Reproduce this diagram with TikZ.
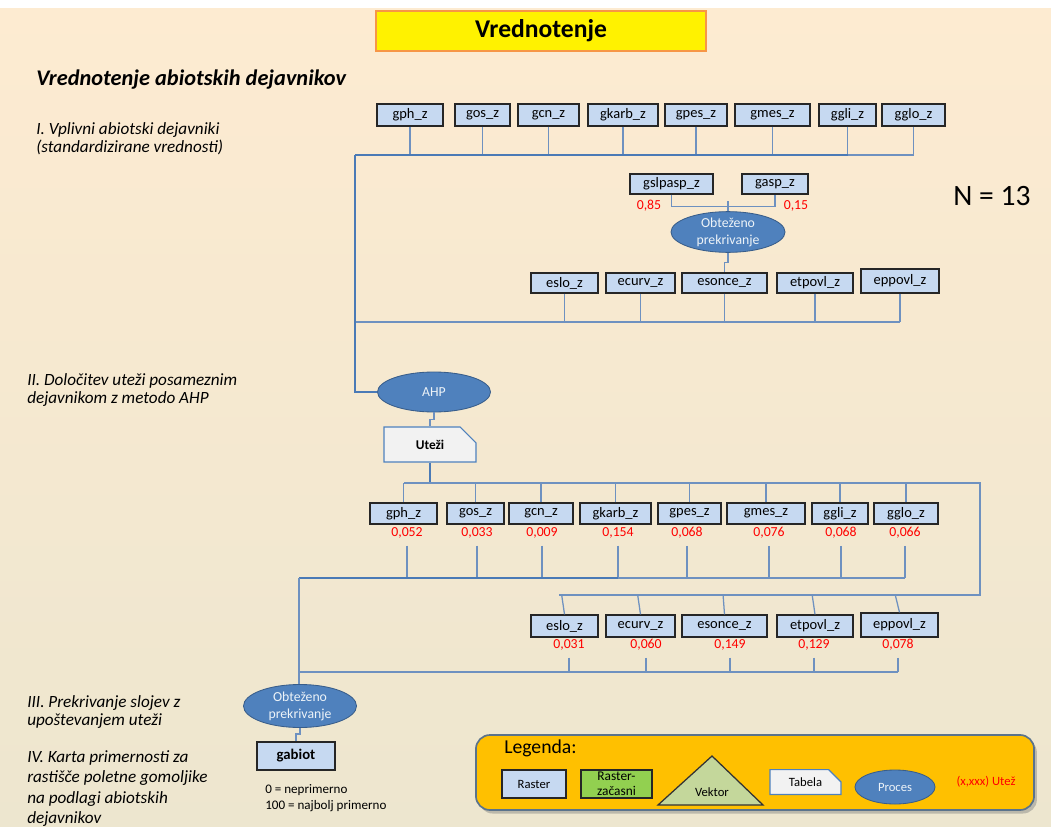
\documentclass[tikz,border=0pt]{standalone}
\usepackage{fontspec}
\setmainfont{Carlito}
\usetikzlibrary{positioning,shapes.geometric,shapes.misc,shadows}
\definecolor{bgtop}{RGB}{253,235,209}
\definecolor{bgbot}{RGB}{237,230,207}
\definecolor{rasterfill}{RGB}{198,217,241}
\definecolor{procfill}{RGB}{79,129,189}
\definecolor{procline}{RGB}{56,93,138}
\definecolor{linkblue}{RGB}{110,145,192}
\definecolor{trunkblue}{RGB}{74,122,182}
\definecolor{titleline}{RGB}{247,150,70}
\definecolor{legfill}{RGB}{255,192,0}
\definecolor{legline}{RGB}{90,115,140}
\definecolor{tmpfill}{RGB}{146,208,80}
\definecolor{vecfill}{RGB}{196,215,155}
\definecolor{tabfill}{RGB}{242,242,242}
\tikzset{
  raster/.style={rectangle,draw=black!85,line width=0.9pt,fill=rasterfill,minimum height=0.55cm,inner sep=1pt,font=\fontsize{10.3}{11}\selectfont},
  proces/.style={ellipse,draw=procline,line width=0.6pt,fill=procfill,text=white!90!procfill,inner sep=0pt,align=center,font=\fontsize{9.8}{12}\selectfont},
  tabela/.style={chamfered rectangle,chamfered rectangle corners=north east,chamfered rectangle xsep=0.3cm,chamfered rectangle ysep=0.28cm,draw=procfill,line width=0.8pt,fill=tabfill,inner sep=0pt,font=\bfseries\fontsize{9.5}{10}\selectfont},
  weight/.style={text=red,inner sep=1pt,font=\fontsize{9.8}{10}\selectfont},
  link/.style={draw=linkblue,line width=0.9pt},
  trunk/.style={draw=trunkblue,line width=1.9pt},
}

\begin{document}
\begin{tikzpicture}[
  x=0.025cm,y=-0.025cm,
  korak/.style={anchor=north west,inner sep=0pt,align=left,font=\itshape\fontsize{12.2}{13.2}\selectfont},
  titlebox/.style={rectangle,draw=titleline,line width=1.5pt,fill=yellow,minimum width=8.25cm,minimum height=1cm,font=\bfseries\fontsize{18.2}{20}\selectfont},
  legbox/.style={rectangle,rounded corners=10pt,draw=legline,line width=1.2pt,fill=legfill,minimum width=13.95cm,minimum height=1.875cm,drop shadow={opacity=0.45,shadow xshift=2pt,shadow yshift=-2.5pt}},
  legtext/.style={font=\fontsize{9}{10}\selectfont,inner sep=0pt,align=center}
]

\useasboundingbox (0,0) rectangle (1051,827);
\fill[top color=bgtop,bottom color=bgbot] (0,8) rectangle (1051,827);
\fill[white] (0,0) rectangle (1051,8);

\node[titlebox] (title) at (541,31) {Vrednotenje};
\node[anchor=west,inner sep=0pt,font=\bfseries\itshape\fontsize{15.9}{18}\selectfont] (head) at (36,80) {Vrednotenje abiotskih dejavnikov};
\node[inner sep=0pt,font=\fontsize{21}{24}\selectfont] (stevilo) at (992,196) {N = 13};

\node[korak] (k1) at (36,122) {I. Vplivni abiotski dejavniki\\(standardizirane vrednosti)};
\node[korak] (k2) at (27,373) {II. Določitev uteži posameznim\\dejavnikom z metodo AHP};
\node[korak] (k3) at (27,695) {III. Prekrivanje slojev z\\upoštevanjem uteži};
\node[korak,font=\itshape\fontsize{12.2}{14.6}\selectfont] (k4) at (27,750) {IV. Karta primernosti za\\rastišče poletne gomoljike\\na podlagi abiotskih\\dejavnikov};

% I. standardized factors
\node[raster,minimum width=1.65cm] (a1) at (410,115) {gph\_z};
\node[raster,minimum width=1.375cm] (a2) at (482.5,115) {gos\_z};
\node[raster,minimum width=1.525cm] (a3) at (548.5,115) {gcn\_z};
\node[raster,minimum width=1.75cm] (a4) at (623,115) {gkarb\_z};
\node[raster,minimum width=1.55cm] (a5) at (696,115) {gpes\_z};
\node[raster,minimum width=1.875cm] (a6) at (772.5,115) {gmes\_z};
\node[raster,minimum width=1.425cm] (a7) at (847.5,115) {ggli\_z};
\node[raster,minimum width=1.575cm] (a8) at (913.5,115) {gglo\_z};

\node[raster,minimum width=2.075cm,minimum height=0.5cm] (b1) at (671.5,184) {gslpasp\_z};
\node[raster,minimum width=1.65cm,minimum height=0.5cm] (b2) at (775,184) {gasp\_z};
\node[weight] (p1) at (649,206) {0,85};
\node[weight] (p2) at (796,206) {0,15};
\node[proces,minimum width=2.85cm,minimum height=0.8cm] (obt1) at (728,232) {Obteženo\\prekrivanje};

\node[raster,minimum width=1.675cm,minimum height=0.5cm] (c1) at (564.5,283) {eslo\_z};
\node[raster,minimum width=1.725cm,minimum height=0.5cm] (c2) at (640.5,283) {ecurv\_z};
\node[raster,minimum width=2.125cm,minimum height=0.5cm] (c3) at (724.5,283) {esonce\_z};
\node[raster,minimum width=1.9cm,minimum height=0.5cm] (c4) at (815,283) {etpovl\_z};
\node[raster,minimum width=1.95cm,minimum height=0.6cm] (c5) at (900,281) {eppovl\_z};

\coordinate (busA) at (355,155);
\coordinate (busB) at (355,322);
\draw[link] (a1.south) -- (a1.south |- busA) (a2.south) -- (a2.south |- busA)
  (a3.south) -- (a3.south |- busA) (a4.south) -- (a4.south |- busA)
  (a5.south) -- (a5.south |- busA) (a6.south) -- (a6.south |- busA)
  (a7.south) -- (a7.south |- busA) (a8.south) -- (a8.south |- busA);
\draw[trunk] (busA) -- (a7.south |- busA);
\draw[link] (a7.south |- busA) -- (a8.south |- busA);
\draw[link] (b1.south) -- ++(0,12) -| (b2.south);
\draw[link] (obt1.north) -- ++(0,-10);
\draw[link] (obt1.south) -- ++(0,10) -| (c3.north);
\draw[link] (c1.south) -- (c1.south |- busB) (c2.south) -- (c2.south |- busB)
  (c3.south) -- (c3.south |- busB) (c4.south) -- (c4.south |- busB)
  (c5.south) -- (c5.south |- busB);
\draw[link] (busB) -- (c5.south |- busB);

% II. AHP weights
\node[proces,minimum width=2.825cm,minimum height=1cm] (ahp) at (434,392) {AHP};
\node[tabela,minimum width=2.3cm,minimum height=0.875cm] (ute) at (430,444.5) {Uteži};
\draw[trunk] (busA) |- (ahp.west);
\draw[link] (ahp.south) -- ++(0,7) -| (ute.north);

\node[raster,minimum width=1.675cm,minimum height=0.525cm] (m1) at (403.5,513.5) {gph\_z};
\node[raster,minimum width=1.425cm,minimum height=0.525cm] (m2) at (475.5,513.5) {gos\_z};
\node[raster,minimum width=1.6cm,minimum height=0.525cm] (m3) at (541,513.5) {gcn\_z};
\node[raster,minimum width=1.775cm,minimum height=0.525cm] (m4) at (615.5,513.5) {gkarb\_z};
\node[raster,minimum width=1.575cm,minimum height=0.525cm] (m5) at (689.5,513.5) {gpes\_z};
\node[raster,minimum width=1.95cm,minimum height=0.525cm] (m6) at (766,513.5) {gmes\_z};
\node[raster,minimum width=1.4cm,minimum height=0.525cm] (m7) at (840,513.5) {ggli\_z};
\node[raster,minimum width=1.6cm,minimum height=0.525cm] (m8) at (906,513.5) {gglo\_z};

\node[weight] (v1) at (407,533) {0,052};
\node[weight] (v2) at (477,533) {0,033};
\node[weight] (v3) at (542,533) {0,009};
\node[weight] (v4) at (618,533) {0,154};
\node[weight] (v5) at (687,533) {0,068};
\node[weight] (v6) at (769,533) {0,076};
\node[weight] (v7) at (841,533) {0,068};
\node[weight] (v8) at (905,533) {0,066};

\node[raster,minimum width=1.675cm] (l1) at (564.5,626) {eslo\_z};
\node[raster,minimum width=1.725cm] (l2) at (640.5,626) {ecurv\_z};
\node[raster,minimum width=2.125cm] (l3) at (724.5,626) {esonce\_z};
\node[raster,minimum width=1.9cm] (l4) at (815,626) {etpovl\_z};
\node[raster,minimum width=1.925cm,minimum height=0.6cm] (l5) at (899.5,625) {eppovl\_z};

\node[weight] (u1) at (569,645) {0,031};
\node[weight] (u2) at (646,645) {0,060};
\node[weight] (u3) at (730,645) {0,149};
\node[weight] (u4) at (814,645) {0,129};
\node[weight] (u5) at (898,645) {0,078};

\coordinate (busC) at (404,483);
\coordinate (cornC) at (980,483);
\coordinate (busD) at (559,595);
\coordinate (busE) at (299,578);
\coordinate (busF) at (299,672);
\draw[trunk] (ute.south) -- (ute.south |- busC);
\draw[link] (busC) -- (cornC) |- (busD);
\draw[link] (m1.north) -- (m1.north |- busC) (m2.north) -- (m2.north |- busC)
  (m3.north) -- (m3.north |- busC) (m4.north) -- (m4.north |- busC)
  (m5.north) -- (m5.north |- busC) (m6.north) -- (m6.north |- busC)
  (m7.north) -- (m7.north |- busC) (m8.north) -- (m8.north |- busC);
\draw[link] ([yshift=-4pt]v1.south) -- (v1.south |- busE) ([yshift=-4pt]v2.south) -- (v2.south |- busE)
  ([yshift=-4pt]v3.south) -- (v3.south |- busE) ([yshift=-4pt]v4.south) -- (v4.south |- busE)
  ([yshift=-4pt]v5.south) -- (v5.south |- busE) ([yshift=-4pt]v6.south) -- (v6.south |- busE)
  ([yshift=-4pt]v7.south) -- (v7.south |- busE) ([yshift=-4pt]v8.south) -- (v8.south |- busE);
\draw[trunk] (busE) -- (v4.south |- busE);
\draw[link] (v4.south |- busE) -- (v8.south |- busE);
\draw[link] (l1.north) -- ([xshift=-2pt]l1.north |- busD) (l2.north) -- ([xshift=-2pt]l2.north |- busD)
  (l3.north) -- ([xshift=-1pt]l3.north |- busD) (l4.north) -- ([xshift=-2pt]l4.north |- busD)
  (l5.north) -- ([xshift=-3pt]l5.north |- busD);
\draw[link] ([yshift=-4pt]u1.south) -- (u1.south |- busF) ([yshift=-4pt]u2.south) -- (u2.south |- busF)
  ([yshift=-4pt]u3.south) -- (u3.south |- busF) ([yshift=-4pt]u4.south) -- (u4.south |- busF)
  ([yshift=-4pt]u5.south) -- (u5.south |- busF);
\draw[link] (busF) -- (u5.south |- busF);

% III. + IV. weighted overlay and result
\node[proces,minimum width=2.825cm,minimum height=1.075cm] (obt2) at (300,706) {Obteženo\\prekrivanje};
\node[raster,minimum width=1.95cm,minimum height=0.7cm,font=\bfseries\fontsize{10.5}{12}\selectfont] (gab) at (296,756) {gabiot};
\node[anchor=north west,inner sep=0pt,align=left,font=\fontsize{9.3}{11.4}\selectfont] (opis) at (265,784) {0 = neprimerno\\100 = najbolj primerno};
\draw[link] (busE) -- (busE |- obt2.north);
\draw[link] (obt2.south) -- ++(0,6) -| (gab.north);

% legend
\node[legbox] (leg) at (755,772.5) {};
\node[anchor=west,inner sep=0pt,font=\fontsize{14}{16}\selectfont] (legnaslov) at (504,748) {Legenda:};
\node[raster,minimum width=1.6cm,minimum height=0.7cm,font=\fontsize{9}{10}\selectfont] (lr) at (534,784) {Raster};
\node[raster,fill=tmpfill,minimum width=1.775cm,minimum height=0.7cm,align=center,inner sep=0pt,font=\fontsize{9.5}{10.5}\selectfont] (lz) at (616.5,784) {Raster-\\začasni};
\draw[draw=black!80,line width=0.9pt,fill=vecfill] (658,805) -- (712,756) -- (763,805) -- cycle;
\node[legtext] (lv) at (712,792) {Vektor};
\node[tabela,font=\fontsize{9}{10}\selectfont,minimum width=1.775cm,minimum height=0.6cm,chamfered rectangle xsep=0.2cm,chamfered rectangle ysep=0.2cm] (lt) at (805.5,782) {Tabela};
\node[proces,minimum width=2cm,minimum height=0.85cm,font=\fontsize{9}{10}\selectfont] (lp) at (895,787) {Proces};
\node[legtext,text=red] (lu) at (986,782) {(x,xxx) Utež};

\end{tikzpicture}
\end{document}
